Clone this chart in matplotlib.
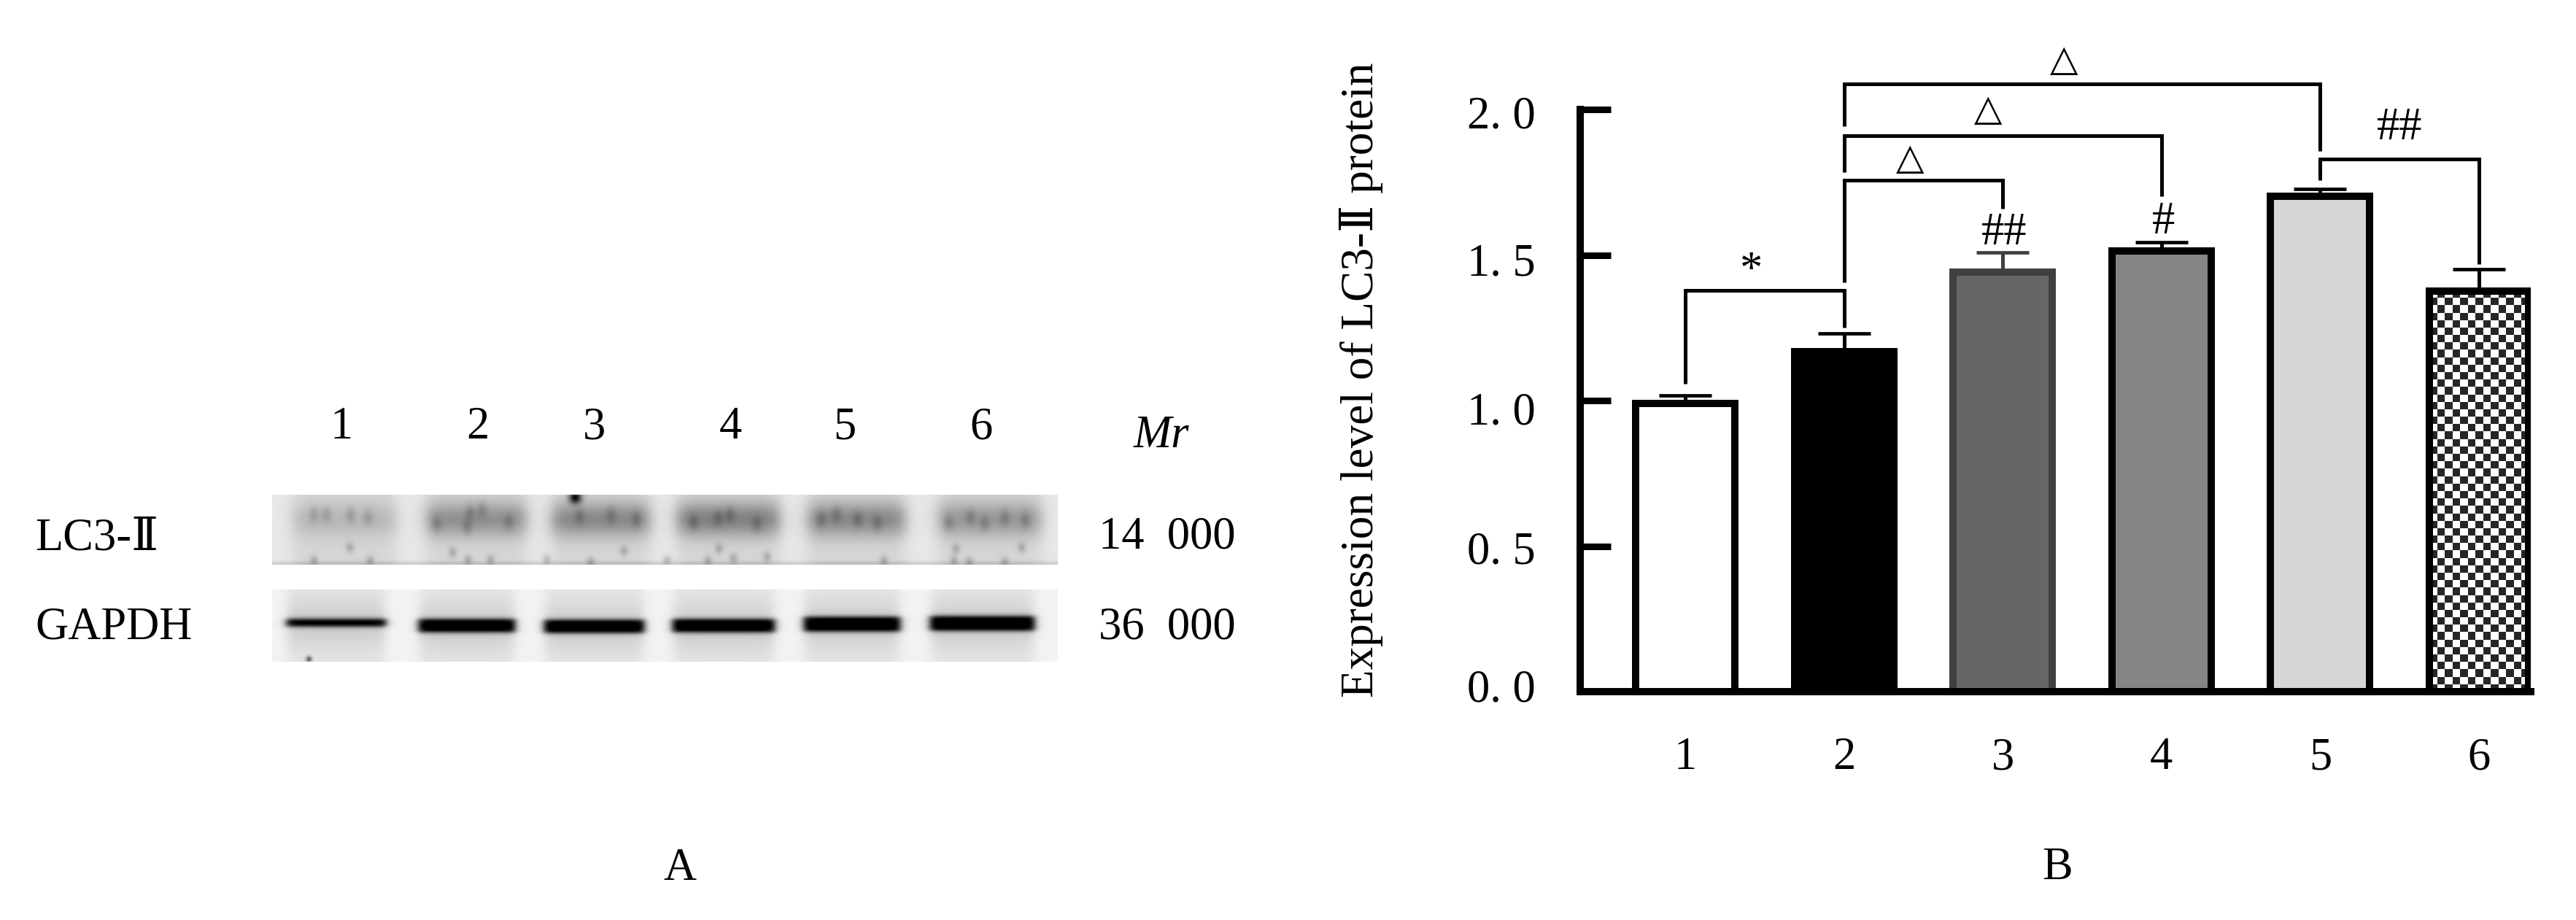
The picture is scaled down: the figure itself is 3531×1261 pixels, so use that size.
import numpy as np
import matplotlib
import matplotlib.pyplot as plt
from matplotlib.transforms import ScaledTranslation
plt.switch_backend('Agg')

plt.rcParams['font.family'] = ['Liberation Serif', 'DejaVu Serif', 'Noto Sans CJK SC', 'DejaVu Sans']

W, H = 3531, 1261

# bar chart (panel B)
groups = ['1', '2', '3', '4', '5', '6']
values = [0.99, 1.167, 1.44, 1.514, 1.703, 1.377]
errors = [0.027, 0.063, 0.069, 0.029, 0.024, 0.074]
face_colors = ['#ffffff', '#000000', '#666666', '#858585', '#d6d6d6', 'none']
edge_colors = ['#000000', '#000000', '#404040', '#000000', '#000000', '#000000']
ytick_values = [0.0, 0.5, 1.0, 1.5, 2.0]
ytick_labels = ['0. 0', '0. 5', '1. 0', '1. 5', '2. 0']
ytick_shift = [9, -2, -10, -6, -4]

# x start, x end, left foot, bar height, right foot
brackets = [
    (0, 1, 1.058, 1.378, 1.251),
    (1, 2, 1.406, 1.758, 1.659),
    (1, 3, 1.784, 1.910, 1.702),
    (1, 4, 1.942, 2.088, 1.857),
    (4, 5, 1.758, 1.830, 1.469),
]
marks = ['*', '△', '△', '△', '##', '#', '##']
mark_x = [0.414, 1.415, 1.907, 2.385, 2.008, 3.01, 4.499]
mark_y = [1.44, 1.825, 1.992, 2.163, 1.574, 1.612, 1.935]

# western blot (panel A), lane limits in figure pixels
lane_labels = ['1', '2', '3', '4', '5', '6']
lane_label_x = [468, 655, 814, 1001, 1158, 1345]
lc3_left = [402, 584, 756, 928, 1107, 1286]
lc3_right = [542, 721, 890, 1068, 1240, 1426]
lc3_dark = [0.12, 0.27, 0.30, 0.33, 0.30, 0.24]
gapdh_left = [389, 570, 742, 918, 1098, 1271]
gapdh_right = [532, 709, 886, 1065, 1237, 1421]
gapdh_y = [853, 857, 858, 857, 855, 854]
gapdh_half = [5, 9, 9, 9, 10, 10]
band_specks = [(430, 705), (447, 705), (480, 706), (504, 710), (644, 702), (660, 698), (598, 719),
               (640, 723), (697, 716), (837, 706), (794, 708), (872, 712), (984, 710), (1037, 719),
               (1000, 705), (950, 716), (1146, 705), (1202, 717), (1175, 712), (1125, 712),
               (1349, 718), (1377, 710), (1405, 713), (1300, 717), (1330, 709)]
low_specks = [(479, 750), (855, 755), (430, 768), (507, 768), (641, 767), (672, 767), (749, 767),
              (809, 770), (914, 768), (970, 768), (1005, 765), (1051, 763), (1211, 768), (1307, 768),
              (1328, 770), (1377, 770), (620, 757), (1310, 752), (1400, 750), (985, 752)]


def px_axes(left, top, right, bottom):
    return fig.add_axes([left / W, 1 - bottom / H, (right - left) / W, (bottom - top) / H])


def px_text(x, y, s, **kw):
    kw.setdefault('fontsize', 45)
    kw.setdefault('ha', 'center')
    kw.setdefault('va', 'center')
    return fig.text(x / W, 1 - y / H, s, **kw)


def box(xx, left, right, soft):
    return 0.5 * (np.tanh((xx - left) / soft) - np.tanh((xx - right) / soft))


fig = plt.figure(figsize=(W / 100, H / 100), dpi=100, facecolor='white')

# ---- panel A
xx, yy = np.meshgrid(np.arange(373, 1450), np.arange(678, 774))
img = np.full(xx.shape, 0.91)
for l, r, d in zip(lc3_left, lc3_right, lc3_dark):
    lane = box(xx, l, r, 12)
    img -= lane * 0.07
    img -= lane * d * np.exp(-((yy - 712) / 17.0) ** 2 / 2)
for sx, sy in band_specks:
    img -= 0.11 * np.exp(-((xx - sx) / 5.0) ** 2 / 2 - ((yy - sy) / 8.0) ** 2 / 2)
for sx, sy in low_specks:
    img -= 0.16 * np.exp(-((xx - sx) / 4.0) ** 2 / 2 - ((yy - sy) / 5.0) ** 2 / 2)
img -= 0.75 * np.exp(-((xx - 788) / 6.0) ** 2 / 2 - ((yy - 682) / 6.0) ** 2 / 2)
img -= 0.1 * np.exp(-((yy - 773) / 3.0) ** 2 / 2)
ax_lc3 = px_axes(373, 678, 1450, 774)
ax_lc3.imshow(np.clip(img, 0, 1), cmap='gray', vmin=0, vmax=1, aspect='auto')
ax_lc3.axis('off')

xx, yy = np.meshgrid(np.arange(373, 1450), np.arange(808, 907))
img = np.full(xx.shape, 0.95)
for l, r, c, h in zip(gapdh_left, gapdh_right, gapdh_y, gapdh_half):
    lane = box(xx, l + 5, r - 5, 9)
    img -= lane * 0.05
    img -= lane * 0.1 * np.exp(-((yy - c - 1) / 24.0) ** 2 / 2)
    band = box(xx, l + 3, r - 3, 6) * box(yy, c - h, c + h, 3.5)
    img -= band * 0.9
img -= 0.5 * np.exp(-((xx - 423) / 3.0) ** 2 / 2 - ((yy - 903) / 3.0) ** 2 / 2)
ax_gapdh = px_axes(373, 808, 1450, 907)
ax_gapdh.imshow(np.clip(img, 0, 1), cmap='gray', vmin=0, vmax=1, aspect='auto')
ax_gapdh.axis('off')

for x, s in zip(lane_label_x, lane_labels):
    px_text(x, 586, s)
px_text(1592, 598, 'Mr', style='italic')
px_text(48, 738, 'LC3-Ⅱ', ha='left')
px_text(48, 861, 'GAPDH', ha='left')
px_text(1600, 737, '14  000')
px_text(1600, 860, '36  000')
px_text(932, 1191, 'A')
px_text(2820, 1190, 'B')

# ---- panel B
ax = px_axes(2166, 150, 3469, 948)
pos = np.arange(len(values))

# checker fill of the last bar
rows, cols = 54, 13
checker = np.indices((rows, cols)).sum(axis=0) % 2
ax.imshow(checker, cmap=matplotlib.colors.ListedColormap(['#ffffff', '#262626']),
          extent=(pos[5] - 0.3125, pos[5] + 0.3125, 0, values[5]), aspect='auto',
          interpolation='nearest', zorder=1)
ax.set_xlim(-0.662, 5.326)
ax.set_ylim(0, 2)

ax.bar(pos, values, width=0.625, color=face_colors, edgecolor=edge_colors, linewidth=7.2, zorder=2)
for p, v, e, c in zip(pos, values, errors, edge_colors):
    ax.errorbar(p, v, yerr=[[0], [e]], color=c, elinewidth=3.6, capsize=26, capthick=3.4, zorder=1.5)

for x0, x1, foot0, top, foot1 in brackets:
    ax.plot([x0, x0, x1, x1], [foot0, top, top, foot1], color='black', lw=3.6,
            solid_joinstyle='miter', solid_capstyle='butt', clip_on=False, zorder=3)

for s, x, y in zip(marks, mark_x, mark_y):
    ax.text(x, y, s, ha='center', va='center', fontsize=36 if s == '△' else 45, clip_on=False)

ax.spines['top'].set_visible(False)
ax.spines['right'].set_visible(False)
ax.spines['left'].set_linewidth(7.2)
ax.spines['bottom'].set_linewidth(7.2)
ax.spines['bottom'].set_zorder(4)

ax.set_yticks(ytick_values)
ax.set_yticklabels(ytick_labels, fontsize=45)
ax.tick_params(axis='y', direction='in', length=30, width=6.5, pad=44)
for lab, dy in zip(ax.get_yticklabels(), ytick_shift):
    lab.set_transform(lab.get_transform() + ScaledTranslation(0, dy / 100, fig.dpi_scale_trans))

ax.set_xticks(pos)
ax.set_xticklabels(groups, fontsize=45)
ax.tick_params(axis='x', length=0, pad=45)

ax.set_ylabel('Expression level of LC3-Ⅱ protein', fontsize=45.5, va='center')
ax.yaxis.set_label_coords(-0.230, 0.536)

fig.savefig('out.png', dpi=100, facecolor='white')
